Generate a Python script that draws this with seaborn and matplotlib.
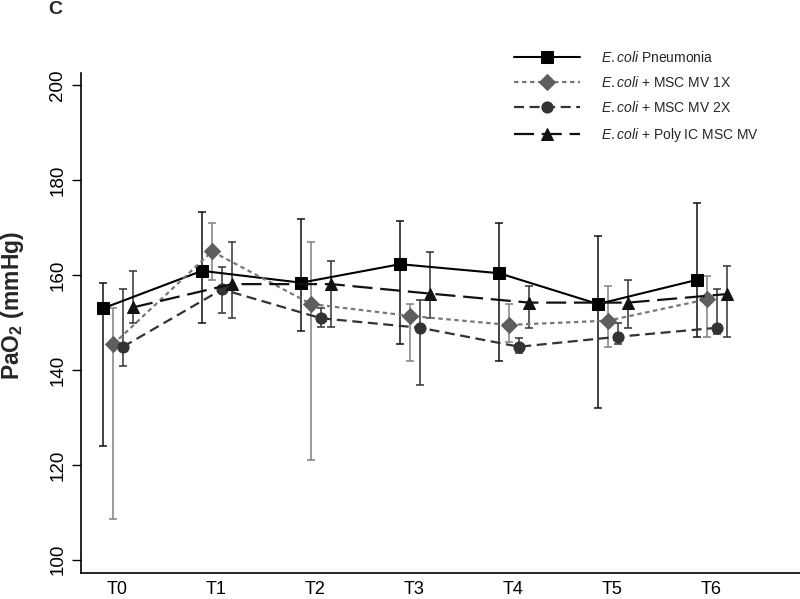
import numpy as np
import pandas as pd
import matplotlib
matplotlib.use("Agg")
import matplotlib.pyplot as plt
import seaborn as sns

# ---- data ----
timepoints = ["T0", "T1", "T2", "T3", "T4", "T5", "T6"]
series_names = [r"$\it{E{.}coli}$ Pneumonia",
                r"$\it{E{.}coli}$ + MSC MV 1X",
                r"$\it{E{.}coli}$ + MSC MV 2X",
                r"$\it{E{.}coli}$ + Poly IC MSC MV"]

pneu = [153.0, 160.9, 158.4, 162.3, 160.4, 153.9, 159.0]
pneu_hi = [158.3, 173.3, 171.9, 171.3, 170.9, 168.3, 175.3]
pneu_lo = [123.9, 149.9, 148.3, 145.4, 141.9, 131.9, 146.9]

mv1 = [145.4, 165.0, 153.9, 151.4, 149.5, 150.4, 154.9]
mv1_hi = [153.0, 171.0, 167.0, 153.9, 153.9, 157.7, 159.8]
mv1_lo = [108.6, 159.0, 121.0, 141.9, 145.9, 144.9, 146.9]

mv2 = [144.9, 157.0, 150.9, 148.9, 144.9, 147.0, 148.9]
mv2_hi = [157.0, 161.8, 153.0, 154.8, 146.8, 149.9, 157.0]
mv2_lo = [140.9, 152.0, 149.0, 136.8, 143.5, 145.5, 147.5]

poly = [153.2, 158.1, 158.1, 156.1, 154.2, 154.2, 156.0]
poly_hi = [160.9, 166.9, 163.0, 164.9, 157.7, 159.0, 161.9]
poly_lo = [149.9, 150.9, 149.0, 151.0, 148.9, 148.9, 146.9]

means = [pneu, mv1, mv2, poly]
highs = [pneu_hi, mv1_hi, mv2_hi, poly_hi]
lows = [pneu_lo, mv1_lo, mv2_lo, poly_lo]

# ---- styles ----
offsets = [-0.141, -0.040, 0.061, 0.162]
markers = ["s", "D", "o", "^"]
msizes = [8, 8, 8, 9]
mcolors = ["#000000", "#5e5e5e", "#333333", "#111111"]
lcolors = ["#000000", "#777777", "#333333", "#111111"]
ecolors = ["#111111", "#808080", "#333333", "#333333"]
lstyles = ["-", (0, (2.0, 1.6)), (0, (4.5, 2.5)), (0, (9, 3.5))]
lwidths = [1.5, 1.6, 1.6, 1.6]

sns.set_theme(style="ticks")
plt.rcParams["font.family"] = ["Liberation Sans", "DejaVu Sans"]
plt.rcParams["mathtext.fontset"] = "custom"
plt.rcParams["mathtext.rm"] = "Liberation Sans"
plt.rcParams["mathtext.it"] = "Liberation Sans:italic"
plt.rcParams["mathtext.bf"] = "Liberation Sans:bold"

fig = plt.figure(figsize=(8.0, 5.99), dpi=100)
ax = fig.add_axes([0.1009, 0.0434, 0.8991, 0.8347])

xbase = np.arange(len(timepoints))
rows = []
for name, m, off in zip(series_names, means, offsets):
    for i, v in enumerate(m):
        rows.append({"x": xbase[i] + off, "value": v, "group": name})
df = pd.DataFrame(rows)

for k, name in enumerate(series_names):
    m = np.array(means[k]); hi = np.array(highs[k]); lo = np.array(lows[k])
    ax.errorbar(xbase + offsets[k], m, yerr=[m - lo, hi - m], fmt="none",
                ecolor=ecolors[k], elinewidth=1.1, capsize=3, capthick=1.1,
                zorder=1)

for k, name in enumerate(series_names):
    sub = df[df["group"] == name]
    sns.lineplot(data=sub, x="x", y="value", ax=ax, color=lcolors[k],
                 linestyle=lstyles[k], linewidth=lwidths[k],
                 marker=markers[k], markersize=msizes[k],
                 markerfacecolor=mcolors[k], markeredgecolor=mcolors[k],
                 label=name, zorder=3 + k, errorbar=None, sort=False)

ax.set_xlim(-0.367, 6.899)
ax.set_ylim(97.2, 202.6)
ax.set_yticks([100, 120, 140, 160, 180, 200])
ax.set_xticks(xbase)
ax.set_xticklabels(timepoints)
ax.tick_params(axis="x", length=0, pad=6, labelsize=13, colors="black")
ax.tick_params(axis="y", length=6.5, width=1, pad=4, labelsize=13.5,
               colors="black")
for lab in ax.get_yticklabels():
    lab.set_rotation(90)
    lab.set_va("center")
for s in ["top", "right"]:
    ax.spines[s].set_visible(False)
for s in ["left", "bottom"]:
    ax.spines[s].set_color("black")
    ax.spines[s].set_linewidth(1.2)

ax.set_xlabel("")
ax.set_ylabel(r"PaO$_\mathbf{2}$ (mmHg)", fontsize=16.5, fontweight="bold")
ax.yaxis.set_label_coords(-0.076, 0.535)

leg = ax.legend(loc="upper left", bbox_to_anchor=(501 / 800, 1 - 37 / 599),
                bbox_transform=fig.transFigure, frameon=False, fontsize=10,
                handlelength=4.8, handletextpad=1.5, labelspacing=0.75)

fig.text(55 / 800, 1 - 10 / 599, "C", ha="center", va="center",
         fontsize=14, fontweight="bold")

fig.savefig("out.png", dpi=100)
